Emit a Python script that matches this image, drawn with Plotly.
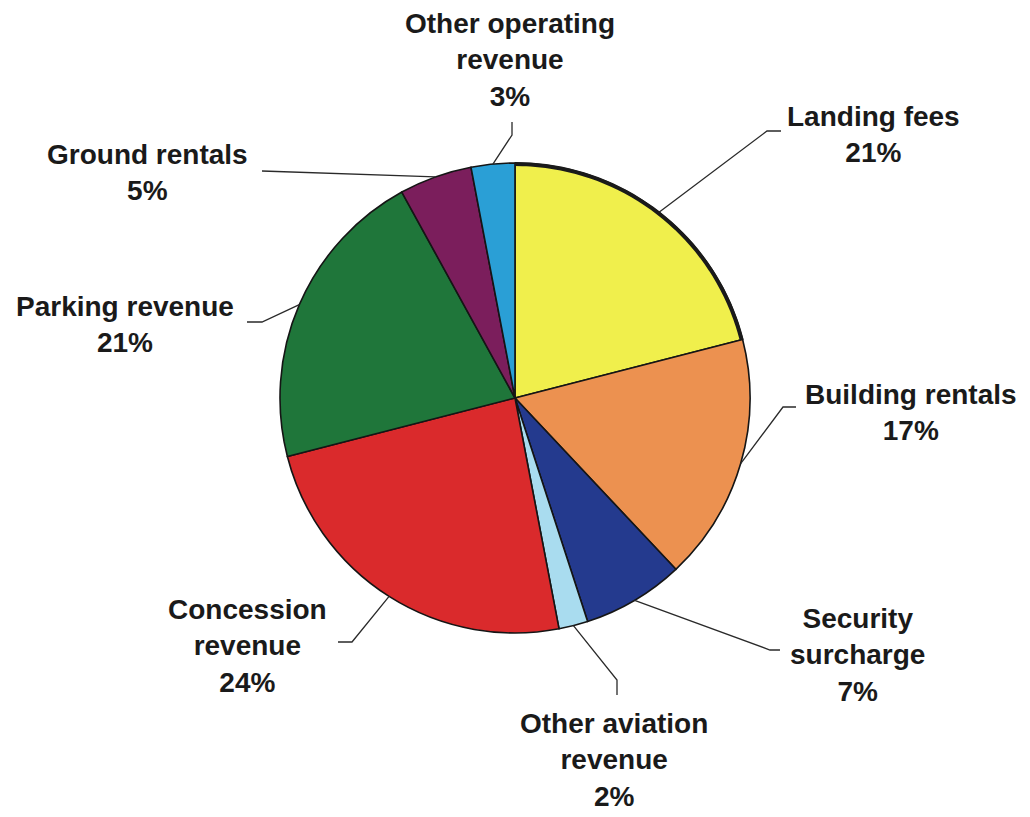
import math
import plotly.graph_objects as go

# Revenue shares (percent), in clockwise order from 12 o'clock
categories = [
    "Landing fees",
    "Building rentals",
    "Security surcharge",
    "Other aviation revenue",
    "Concession revenue",
    "Parking revenue",
    "Ground rentals",
    "Other operating revenue",
]
shares = [21, 17, 7, 2, 24, 21, 5, 3]
label_text = [
    "Landing fees",
    "Building rentals",
    "Security<br>surcharge",
    "Other aviation<br>revenue",
    "Concession<br>revenue",
    "Parking revenue",
    "Ground rentals",
    "Other operating<br>revenue",
]
colors = ["#F0EF4C", "#EC9150", "#243A8E", "#A9DCEF",
          "#DA2A2C", "#1F763A", "#7B1E5C", "#2A9FD6"]

W, H = 1030, 817
CX, CY, R = 515, 398, 235  # pie centre and radius in pixels

# Label block centres and leader-line elbows/ends (pixels)
label_pos = {
    "Landing fees": (873, 134),
    "Building rentals": (911, 412),
    "Security surcharge": (857, 655),
    "Other aviation revenue": (614, 760),
    "Concession revenue": (247, 646),
    "Parking revenue": (125, 324),
    "Ground rentals": (148, 172),
    "Other operating revenue": (510, 60),
}
leader = {
    "Landing fees": [(767, 131), (781, 131)],
    "Building rentals": [(783, 407), (796, 407)],
    "Security surcharge": [(770, 650), (780, 650)],
    "Other aviation revenue": [(617, 680), (617, 695)],
    "Concession revenue": [(352, 642), (338, 642)],
    "Parking revenue": [(262, 322), (247, 322)],
    "Ground rentals": [(262, 171), (262, 171)],
    "Other operating revenue": [(512, 135), (512, 122)],
}


def px(x):
    return x / W


def py(y):
    return 1 - y / H


fig = go.Figure(go.Pie(
    labels=categories,
    values=shares,
    sort=False,
    direction="clockwise",
    rotation=0,
    marker=dict(colors=colors, line=dict(color="#151515", width=1.6)),
    textinfo="none",
    hoverinfo="label+percent",
    domain=dict(x=[px(CX - R), px(CX + R)], y=[py(CY + R), py(CY - R)]),
    showlegend=False,
))

total = sum(shares)
annotations = []
shapes = []
cum = 0
for name, val, txt in zip(categories, shares, label_text):
    start = cum / total * 360
    cum += val
    end = cum / total * 360
    mid = math.radians((start + end) / 2)
    ax = CX + R * math.sin(mid)
    ay = CY - R * math.cos(mid)
    pts = [(ax, ay)] + leader[name]
    path = "M " + " L ".join(f"{px(x):.5f},{py(y):.5f}" for x, y in pts)
    shapes.append(dict(type="path", path=path, xref="paper", yref="paper",
                       line=dict(color="#2a2a2a", width=1.3)))
    lx, ly = label_pos[name]
    pct = round(val / total * 100)
    annotations.append(dict(
        x=px(lx), y=py(ly), xref="paper", yref="paper",
        text=f"<b>{txt}<br>{pct}%</b>", showarrow=False,
        xanchor="center", yanchor="middle", align="center",
        font=dict(family="Liberation Sans, Arial, sans-serif", size=28, color="#1a1a1a"),
    ))

# Heavier rim along the outer edge of the first slice
a0, a1 = 0, shares[0] / total * 360
steps = 40
arc = []
for i in range(steps + 1):
    t = math.radians(a0 + (a1 - a0) * i / steps)
    arc.append((CX + (R - 1) * math.sin(t), CY - (R - 1) * math.cos(t)))
shapes.append(dict(type="path", xref="paper", yref="paper",
                   path="M " + " L ".join(f"{px(x):.5f},{py(y):.5f}" for x, y in arc),
                   line=dict(color="#1a1a1a", width=4)))

fig.update_layout(
    width=W, height=H,
    margin=dict(l=0, r=0, t=0, b=0),
    paper_bgcolor="white",
    plot_bgcolor="white",
    annotations=annotations,
    shapes=shapes,
)

fig.write_html("out.html")
